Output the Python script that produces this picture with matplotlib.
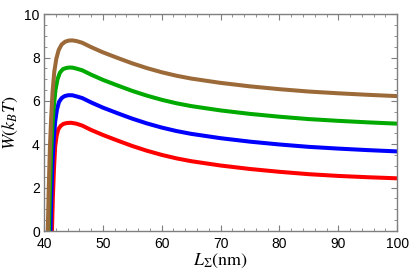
import numpy as np
import matplotlib.pyplot as plt
from matplotlib.ticker import MultipleLocator

plt.rcParams['font.family'] = ['Liberation Sans', 'DejaVu Sans']
plt.rcParams['mathtext.fontset'] = 'stix'

# values
x_brown = [40.5, 40.65, 40.8, 41.0, 41.2, 41.45, 41.75, 42.1, 42.5, 43.0, 43.6, 44.2, 44.8,
           45.5, 46.5, 48, 50, 52.5, 55, 57.5, 60, 62.5, 65, 70, 75, 80, 85, 90, 95, 100]
y_brown = [-2.0, 0.0, 1.9, 3.8, 5.1, 6.4, 7.35, 7.95, 8.35, 8.6, 8.73, 8.78, 8.79,
           8.76, 8.68, 8.48, 8.24, 7.98, 7.73, 7.51, 7.32, 7.16, 7.03, 6.83, 6.67, 6.54, 6.43, 6.35, 6.28, 6.22]

x_green = [40.7, 40.85, 41.0, 41.2, 41.4, 41.65, 41.95, 42.3, 42.7, 43.2, 43.8, 44.4, 44.9,
           45.5, 46.5, 48, 50, 52.5, 55, 57.5, 60, 62.5, 65, 70, 75, 80, 85, 90, 95, 100]
y_green = [-2.0, 0.0, 1.8, 3.5, 4.7, 5.7, 6.5, 7.0, 7.3, 7.46, 7.52, 7.54, 7.53,
           7.49, 7.41, 7.21, 6.97, 6.71, 6.46, 6.24, 6.05, 5.89, 5.76, 5.56, 5.40, 5.27, 5.16, 5.08, 5.01, 4.95]

x_blue = [40.95, 41.1, 41.25, 41.45, 41.65, 41.9, 42.2, 42.55, 43.0, 43.5, 44.1, 44.8,
          45.5, 46.5, 48, 50, 52.5, 55, 57.5, 60, 62.5, 65, 70, 75, 80, 85, 90, 95, 100]
y_blue = [-2.0, 0.0, 1.7, 3.2, 4.2, 5.05, 5.6, 5.95, 6.13, 6.22, 6.26, 6.26,
          6.21, 6.13, 5.93, 5.69, 5.43, 5.18, 4.96, 4.77, 4.61, 4.48, 4.28, 4.12, 3.99, 3.88, 3.80, 3.73, 3.67]

x_red = [41.2, 41.35, 41.5, 41.7, 41.9, 42.15, 42.45, 42.85, 43.3, 43.9, 44.6,
         45.5, 46.5, 48, 50, 52.5, 55, 57.5, 60, 62.5, 65, 70, 75, 80, 85, 90, 95, 100]
y_red = [-2.0, 0.0, 1.5, 2.9, 3.9, 4.4, 4.7, 4.85, 4.94, 4.98, 4.99,
         4.95, 4.86, 4.66, 4.43, 4.17, 3.92, 3.70, 3.51, 3.35, 3.22, 3.02, 2.86, 2.73, 2.62, 2.54, 2.48, 2.43]

fig = plt.figure(figsize=(4.15, 2.77), dpi=100)
ax = fig.add_axes([0.106, 0.166, 0.851, 0.783])

lw = 2.9
ax.plot(x_red, y_red, color='#ff0000', lw=lw, solid_capstyle='butt')
ax.plot(x_blue, y_blue, color='#0000ff', lw=lw, solid_capstyle='butt')
ax.plot(x_green, y_green, color='#00aa00', lw=lw, solid_capstyle='butt')
ax.plot(x_brown, y_brown, color='#9c6a39', lw=lw, solid_capstyle='butt')

ax.set_xlim(40, 100)
ax.set_ylim(0, 10)
ax.xaxis.set_major_locator(MultipleLocator(10))
ax.xaxis.set_minor_locator(MultipleLocator(2))
ax.yaxis.set_major_locator(MultipleLocator(2))
ax.yaxis.set_minor_locator(MultipleLocator(0.5))

frame_col = '#7f7f7f'
for s in ax.spines.values():
    s.set_color(frame_col)
    s.set_linewidth(1.0)
ax.tick_params(which='both', direction='in', top=True, right=True,
               color=frame_col, labelsize=10)
ax.tick_params(axis='x', pad=4)
ax.tick_params(axis='y', pad=3)
ax.tick_params(which='major', length=4, width=0.8)
ax.tick_params(which='minor', length=2.2, width=0.6)

ax.set_xlabel(r'$L_\Sigma(\mathrm{nm})$', fontsize=13, labelpad=1)
ax.set_ylabel(r'$W(k_BT)$', fontsize=13, labelpad=3)

fig.savefig('out.png', dpi=100)
